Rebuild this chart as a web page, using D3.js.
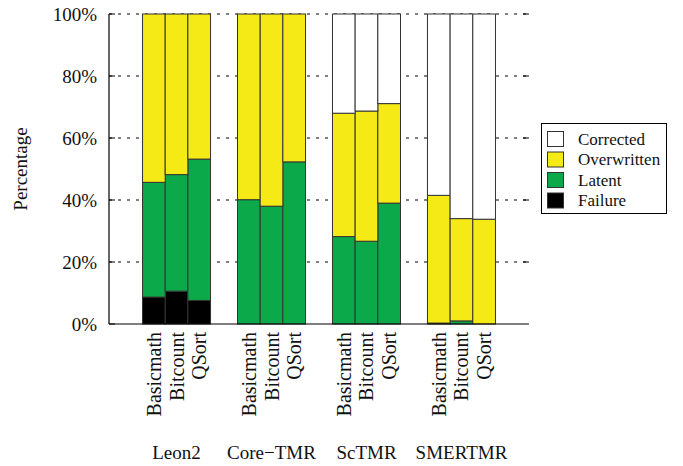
<!DOCTYPE html>
<html>
<head>
<meta charset="utf-8">
<script src="https://cdn.jsdelivr.net/npm/d3@7"></script>
<style>
  html, body { margin: 0; padding: 0; background: #fff; }
  svg { display: block; font-family: "Liberation Serif", "Times New Roman", serif; }
</style>
</head>
<body>
<svg id="chart" width="683" height="466"></svg>
<script>
// ---- data ----
const groups = ["Leon2", "Core\u2212TMR", "ScTMR", "SMERTMR"];
const benchmarks = ["Basicmath", "Bitcount", "QSort"];
const seriesNames = ["Failure", "Latent", "Overwritten", "Corrected"];
// values per group, per benchmark (percent)
const failure     = [[8.7, 10.6, 7.6], [0, 0, 0], [0, 0, 0], [0, 0, 0]];
const latent      = [[37.0, 37.6, 45.6], [40.1, 38.0, 52.3], [28.2, 26.7, 39.0], [0.3, 1.0, 0]];
const overwritten = [[54.3, 51.8, 46.8], [59.9, 62.0, 47.7], [39.8, 42.0, 32.1], [41.2, 33.0, 33.8]];
const corrected   = [[0, 0, 0], [0, 0, 0], [32.0, 31.3, 28.9], [58.5, 66.0, 66.2]];
const yTicks = [0, 20, 40, 60, 80, 100];
const legendOrder = ["Corrected", "Overwritten", "Latent", "Failure"];
const colors = { Failure: "#000000", Latent: "#0ca94a", Overwritten: "#f5e916", Corrected: "#ffffff" };

// ---- build rows ----
const seriesVals = { Failure: failure, Latent: latent, Overwritten: overwritten, Corrected: corrected };
const rows = [];
groups.forEach((g, gi) => benchmarks.forEach((b, bi) => {
  const r = { group: g, bench: b };
  seriesNames.forEach(s => r[s] = seriesVals[s][gi][bi]);
  rows.push(r);
}));
const stacked = d3.stack().keys(seriesNames)(rows);

// ---- layout ----
const svg = d3.select("#chart");
const L = 109, R = 529, T = 14, B = 324;
const x0 = d3.scaleBand().domain(groups).range([L, R]).paddingInner(0.284).paddingOuter(0.353);
const x1 = d3.scaleBand().domain(benchmarks).range([0, x0.bandwidth()]);
const y = d3.scaleLinear().domain([0, 100]).range([B, T]);
const fontSize = 19;

// grid
svg.append("g").selectAll("line").data(yTicks.filter(d => d > 0)).join("line")
  .attr("x1", L).attr("x2", R).attr("y1", d => y(d)).attr("y2", d => y(d))
  .attr("stroke", "#000").attr("stroke-width", 1).attr("stroke-dasharray", "3,6");
// ticks (inward, left and right)
svg.append("g").selectAll("line").data(yTicks).join("line")
  .attr("x1", L).attr("x2", L + 6).attr("y1", d => y(d)).attr("y2", d => y(d))
  .attr("stroke", "#000");
svg.append("g").selectAll("line").data(yTicks.filter(d => d > 0)).join("line")
  .attr("x1", R - 6).attr("x2", R).attr("y1", d => y(d)).attr("y2", d => y(d))
  .attr("stroke", "#000");

// bars
svg.append("g").selectAll("g").data(stacked).join("g")
  .attr("fill", d => colors[d.key])
  .selectAll("rect").data(d => d).join("rect")
  .attr("x", d => x0(d.data.group) + x1(d.data.bench))
  .attr("width", x1.bandwidth())
  .attr("y", d => y(d[1]))
  .attr("height", d => Math.max(0, y(d[0]) - y(d[1])))
  .attr("stroke", "#333")
  .attr("stroke-width", 1)
  .attr("display", d => (d[1] - d[0]) > 0 ? null : "none");

// axes lines
svg.append("line").attr("x1", L).attr("x2", L).attr("y1", T).attr("y2", B).attr("stroke", "#000").attr("stroke-width", 1.2);
svg.append("line").attr("x1", L).attr("x2", R).attr("y1", B).attr("y2", B).attr("stroke", "#000").attr("stroke-width", 1.2);

// y tick labels
svg.append("g").selectAll("text").data(yTicks).join("text")
  .attr("x", L - 12).attr("y", d => y(d)).attr("dy", "0.35em")
  .attr("text-anchor", "end").attr("font-size", fontSize).attr("fill", "#111")
  .text(d => d + "%");

// y title
svg.append("text").attr("transform", `translate(27,${(T + B) / 2}) rotate(-90)`)
  .attr("text-anchor", "middle").attr("font-size", fontSize).attr("fill", "#111")
  .text("Percentage");

// benchmark labels
svg.append("g").selectAll("text").data(rows).join("text")
  .attr("transform", d => `translate(${x0(d.group) + x1(d.bench) + x1.bandwidth() / 2},${B + 8}) rotate(-90)`)
  .attr("dy", "0.35em").attr("text-anchor", "end").attr("font-size", 20).attr("fill", "#111")
  .text(d => d.bench);

// group labels
svg.append("g").selectAll("text").data(groups).join("text")
  .attr("x", d => x0(d) + x0.bandwidth() / 2).attr("y", 459)
  .attr("text-anchor", "middle").attr("font-size", fontSize).attr("fill", "#111")
  .text(d => d);

// legend
const lg = svg.append("g");
lg.append("rect").attr("x", 541.5).attr("y", 123.5).attr("width", 125).attr("height", 90)
  .attr("fill", "#fff").attr("stroke", "#000");
legendOrder.forEach((s, i) => {
  const cy = 139 + i * 20.5;
  lg.append("rect").attr("x", 547.5).attr("y", cy - 7.5).attr("width", 16).attr("height", 15)
    .attr("fill", colors[s]).attr("stroke", "#333");
  lg.append("text").attr("x", 578).attr("y", cy).attr("dy", "0.35em")
    .attr("font-size", 17).attr("fill", "#111").text(s);
});
</script>
</body>
</html>
